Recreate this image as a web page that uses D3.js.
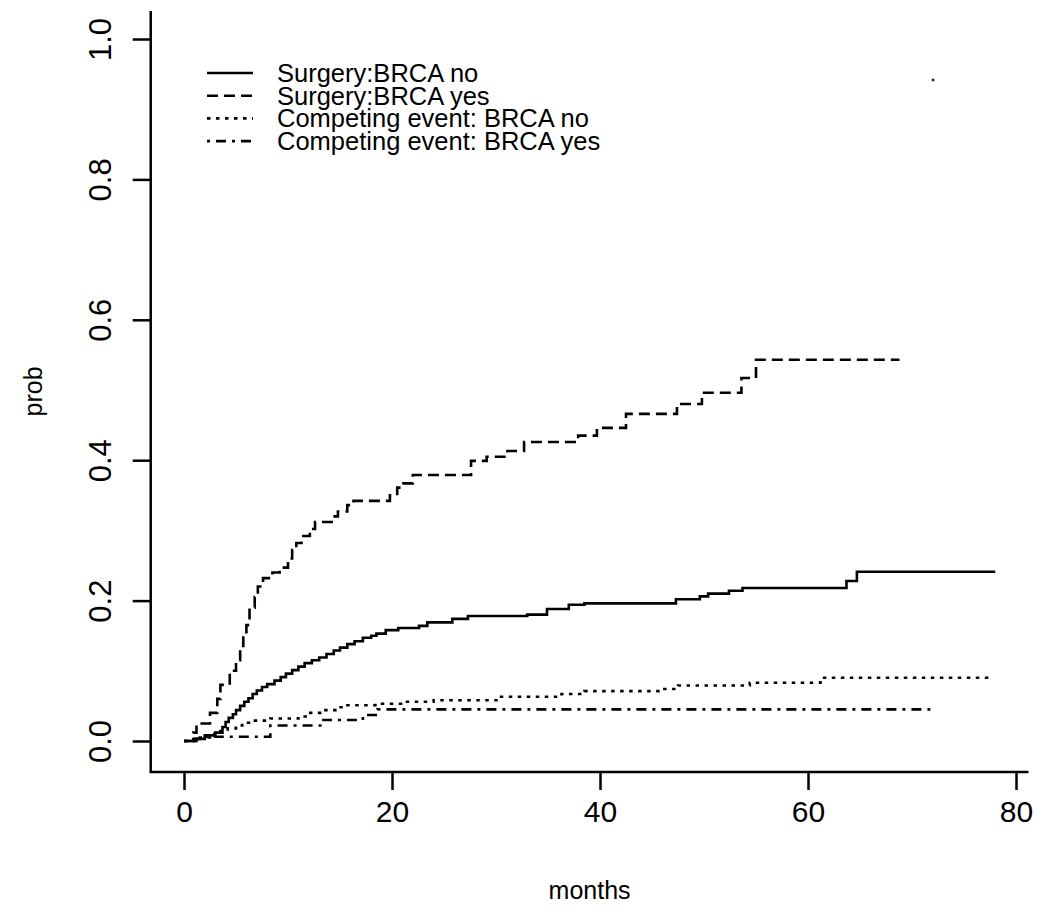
<!DOCTYPE html>
<meta charset="utf-8" />
<script src="https://d3js.org/d3.v7.min.js"></script>
<style>
	body { margin: 0; background: #fff; }
	text { font-family: "Liberation Sans", Arial, sans-serif; fill: #000; }
</style>
<div id="my_dataviz"></div>
<script>
	// step data: [month, cumulative probability]
	var surgeryNo = [
		[0, 0], [1.0, 0.003], [2.0, 0.008], [3.0, 0.012], [3.7, 0.02], [4.0, 0.027],
		[4.3, 0.033], [4.7, 0.038], [5.0, 0.044], [5.4, 0.05], [5.8, 0.056], [6.2, 0.061],
		[6.6, 0.067], [7.0, 0.072], [7.5, 0.077], [8.0, 0.081], [8.7, 0.086], [9.3, 0.091],
		[9.8, 0.096], [10.4, 0.101], [11.0, 0.106], [11.6, 0.111], [12.3, 0.115], [13.0, 0.119],
		[13.7, 0.124], [14.4, 0.129], [15.0, 0.133], [15.7, 0.138], [16.4, 0.142], [17.2, 0.147],
		[18.0, 0.15], [18.5, 0.153], [19.4, 0.158], [20.6, 0.161], [22.6, 0.164], [23.4, 0.169],
		[25.8, 0.174], [27.3, 0.178], [33.0, 0.18], [34.9, 0.188], [37.0, 0.194], [38.5, 0.196],
		[47.3, 0.202], [49.6, 0.206], [50.4, 0.21], [52.4, 0.214], [53.7, 0.218], [63.7, 0.228],
		[64.7, 0.241], [78, 0.241]
	];
	var surgeryYes = [
		[0, 0], [0.9, 0.012], [1.2, 0.025], [2.5, 0.04], [3.2, 0.06], [3.5, 0.08], [4.4, 0.1],
		[5.0, 0.115], [5.4, 0.13], [5.7, 0.15], [6.0, 0.165], [6.3, 0.19], [6.8, 0.205],
		[7.1, 0.22], [7.6, 0.232], [8.5, 0.24], [9.2, 0.247], [10.0, 0.26], [10.4, 0.272],
		[10.8, 0.282], [11.3, 0.292], [12.1, 0.302], [12.6, 0.312], [14.2, 0.32], [14.8, 0.327],
		[15.7, 0.336], [16.3, 0.342], [19.8, 0.35], [20.5, 0.361], [21.1, 0.367], [22.0, 0.379],
		[27.6, 0.399], [29.1, 0.405], [31.1, 0.413], [32.7, 0.426], [37.9, 0.435], [39.7, 0.446],
		[42.5, 0.466], [47.4, 0.48], [49.8, 0.496], [53.6, 0.517], [55.0, 0.543], [68.8, 0.543]
	];
	var competingNo = [
		[0, 0], [0.9, 0.005], [2.5, 0.01], [3.5, 0.014], [4.2, 0.018], [5.0, 0.022], [5.6, 0.026],
		[6.4, 0.029], [8.3, 0.032], [11.0, 0.035], [11.9, 0.04], [13.6, 0.044], [14.8, 0.048],
		[15.5, 0.051], [18.4, 0.053], [21.0, 0.056], [24.0, 0.058], [30.2, 0.063], [36.3, 0.067],
		[38.5, 0.071], [45.9, 0.074], [47.5, 0.079], [54.4, 0.083], [61.2, 0.09], [77.6, 0.09]
	];
	var competingYes = [
		[0, 0], [1.2, 0.003], [2.0, 0.006], [8.3, 0.022], [13.4, 0.03], [17.2, 0.037],
		[18.6, 0.045], [72.3, 0.045]
	];
	var strayPoints = [[72, 0.942]];

	var seriesNames = [
		"Surgery:BRCA no",
		"Surgery:BRCA yes",
		"Competing event: BRCA no",
		"Competing event: BRCA yes"
	];
	var seriesData = [surgeryNo, surgeryYes, competingNo, competingYes];
	var dashes = [null, "11,6", "3.5,5.5", "3,6,10,6"];

	var xTicks = [0, 20, 40, 60, 80];
	var yTicks = [0, 0.2, 0.4, 0.6, 0.8, 1.0];
	var xFrame = [-3.2, 81.2]; // R style plot region (4% padding)
	var yFrame = [-0.044, 1.04];

	var width = 1038,
		height = 924;

	var svg = d3
		.select("#my_dataviz")
		.append("svg")
		.attr("width", width)
		.attr("height", height);

	var x = d3.scaleLinear().domain([0, 80]).range([184, 1016]);
	var y = d3.scaleLinear().domain([0, 1]).range([741, 39]);

	// L shaped box
	svg.append("path")
		.attr("d", "M" + x(xFrame[0]) + "," + y(yFrame[1]) +
			"V" + y(yFrame[0]) + "H" + x(xFrame[1]))
		.attr("fill", "none")
		.attr("stroke", "#000")
		.attr("stroke-width", 2.5);

	// X axis
	var xAxis = svg.append("g")
		.attr("transform", "translate(0," + y(yFrame[0]) + ")")
		.call(d3.axisBottom(x).tickValues(xTicks).tickSize(18).tickPadding(11)
			.tickFormat(d3.format("d")));
	xAxis.select(".domain").remove();
	xAxis.selectAll("line").attr("stroke-width", 2.5);
	xAxis.selectAll("text").attr("font-size", 30).attr("font-family", null);

	// Y axis (labels rotated like R)
	var yAxis = svg.append("g")
		.attr("transform", "translate(" + x(xFrame[0]) + ",0)")
		.call(d3.axisLeft(y).tickValues(yTicks).tickSize(18).tickFormat(d3.format(".1f")));
	yAxis.select(".domain").remove();
	yAxis.selectAll("line").attr("stroke-width", 2.5);
	yAxis.selectAll("text")
		.attr("font-size", 31)
		.attr("font-family", null)
		.attr("text-anchor", "middle")
		.attr("dy", null)
		.attr("x", null)
		.attr("transform", "translate(-50,0) rotate(-90)")
		.attr("dominant-baseline", "central");

	// Axis titles
	svg.append("text")
		.attr("x", (x(xFrame[0]) + x(xFrame[1])) / 2)
		.attr("y", 899)
		.attr("text-anchor", "middle")
		.attr("font-size", 25)
		.text("months");

	svg.append("text")
		.attr("transform", "translate(42," + (y(yFrame[0]) + y(yFrame[1])) / 2 + ") rotate(-90)")
		.attr("text-anchor", "middle")
		.attr("font-size", 25)
		.text("prob");

	// Step curves
	var line = d3.line()
		.x(d => x(d[0]))
		.y(d => y(d[1]))
		.curve(d3.curveStepAfter);

	svg.append("g")
		.selectAll("path")
		.data(seriesData)
		.join("path")
		.attr("d", d => line(d))
		.attr("fill", "none")
		.attr("stroke", "#000")
		.attr("stroke-width", 2.6)
		.attr("stroke-dasharray", (d, i) => dashes[i]);

	svg.append("g")
		.selectAll("rect")
		.data(strayPoints)
		.join("rect")
		.attr("x", d => x(d[0]) - 1)
		.attr("y", d => y(d[1]) - 1)
		.attr("width", 2.5)
		.attr("height", 2.5)
		.attr("fill", "#222");

	// Legend
	var legend = svg.append("g").attr("transform", "translate(207,73)");
	var rows = legend.selectAll("g")
		.data(seriesNames)
		.join("g")
		.attr("transform", (d, i) => "translate(0," + i * 22.7 + ")");
	rows.append("line")
		.attr("x1", 0)
		.attr("x2", 46)
		.attr("stroke", "#000")
		.attr("stroke-width", 2.6)
		.attr("stroke-dasharray", (d, i) => dashes[i]);
	rows.append("text")
		.attr("x", 70)
		.attr("dominant-baseline", "central")
		.attr("font-size", 25.5)
		.text(d => d);
</script>
